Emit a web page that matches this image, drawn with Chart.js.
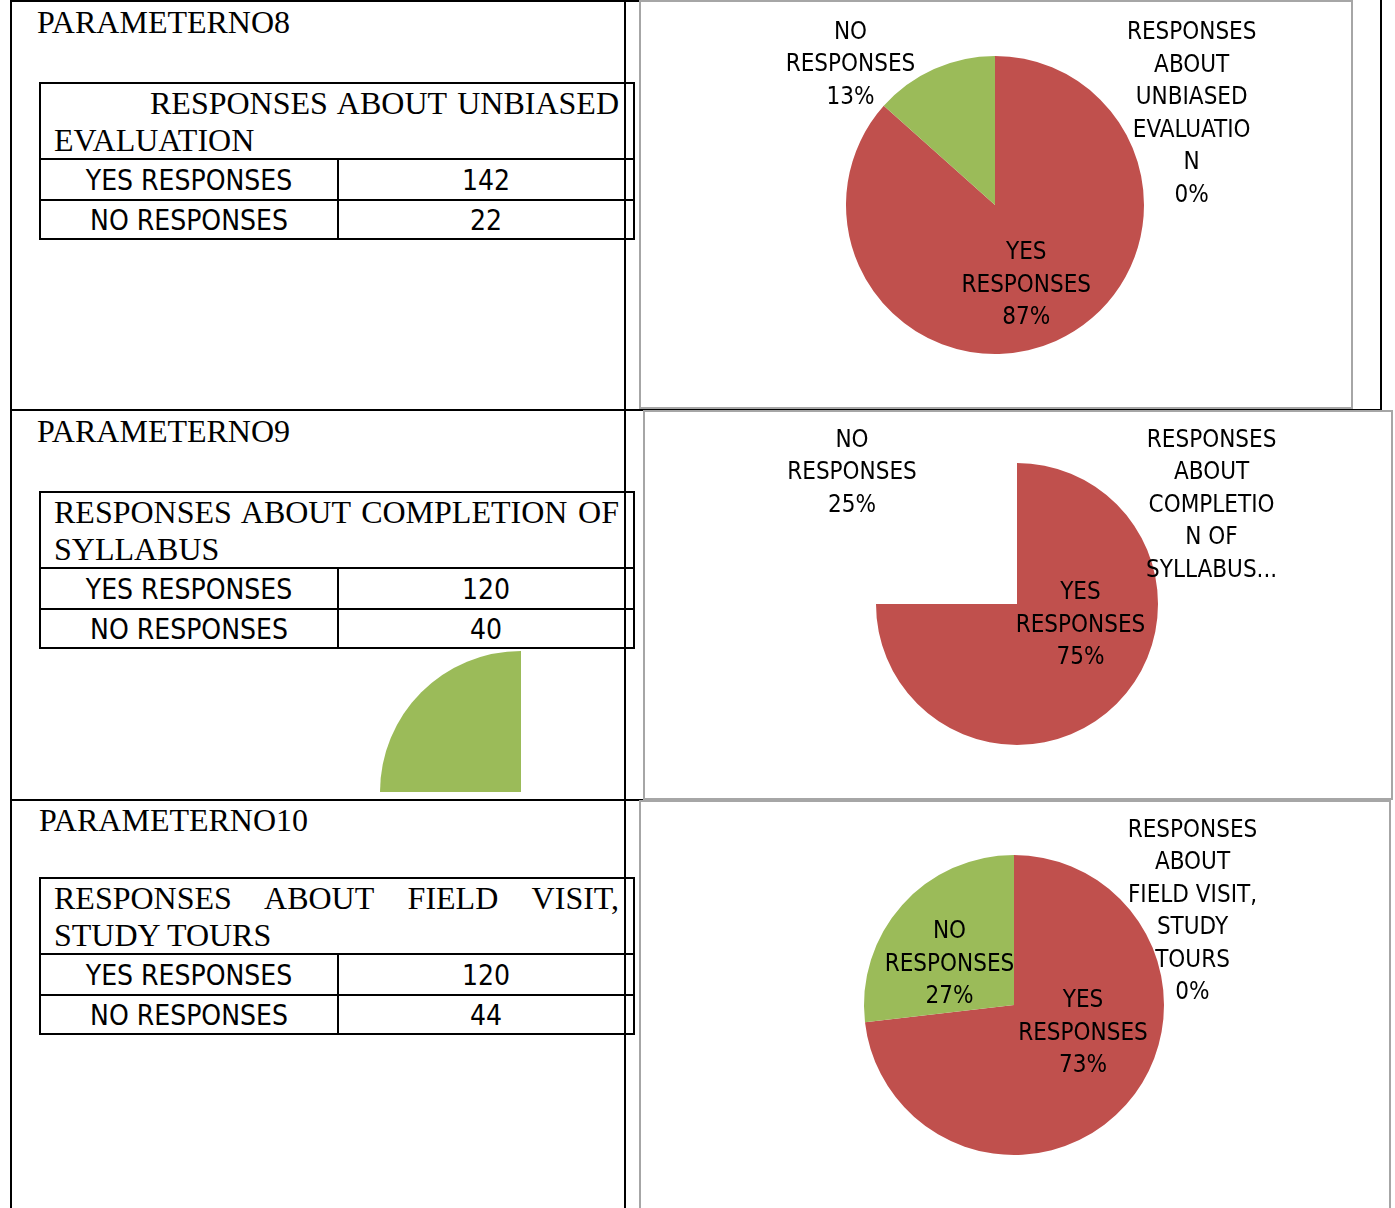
<!DOCTYPE html>
<html>
<head>
<meta charset="utf-8">
<script src="https://cdn.jsdelivr.net/npm/chart.js@4.4.1/dist/chart.umd.min.js"></script>
<style>
body{margin:0;background:#fff;width:1395px;height:1208px;overflow:hidden;position:relative;}
.ln{position:absolute;background:#000;}
.frame{position:absolute;border:2px solid #a6a6a6;box-sizing:border-box;background:#fff;}
.title{position:absolute;font-family:"Liberation Serif","Times New Roman",serif;font-size:32px;line-height:32px;white-space:nowrap;}
.tbl{position:absolute;left:39px;width:596px;height:158px;border:2px solid #000;box-sizing:border-box;}
.tbl .hd{position:absolute;left:0;right:0;top:1px;height:73px;padding:0 14px 0 13px;
  font-family:"Liberation Serif","Times New Roman",serif;font-size:32px;line-height:37px;text-align:justify;}
.tbl .h{position:absolute;left:0;right:0;height:2px;background:#000;}
.tbl .v{position:absolute;left:296px;width:2px;top:74px;bottom:0;background:#000;}
.tbl .c{position:absolute;text-align:center;font-family:"Liberation Sans Narrow","DejaVu Sans Condensed",sans-serif;font-size:28px;}
canvas{position:absolute;}
</style>
</head>
<body>
<div class="ln" style="left:10px;top:0;width:2px;height:1208px"></div>
<div class="ln" style="left:624px;top:0;width:2px;height:1208px"></div>
<div class="ln" style="left:10px;top:0;width:630px;height:2px"></div>
<div class="ln" style="left:1380px;top:0;width:2px;height:411px"></div>
<div class="ln" style="left:10px;top:409px;width:1372px;height:2px"></div>
<div class="ln" style="left:10px;top:799px;width:634px;height:2px"></div>

<div class="frame" style="left:639px;top:0;width:714px;height:409px"></div>
<div class="frame" style="left:643px;top:410px;width:750px;height:390px"></div>
<div class="frame" style="left:639px;top:800px;width:752px;height:420px"></div>

<div class="title" style="left:37px;top:6px">PARAMETERNO8</div>
<div class="title" style="left:37px;top:415px">PARAMETERNO9</div>
<div class="title" style="left:39px;top:804px">PARAMETERNO10</div>

<div id="tables"></div>

<canvas id="pie8" width="708" height="403" style="left:641px;top:3px"></canvas>
<canvas id="pie9" width="744" height="384" style="left:645px;top:413px"></canvas>
<canvas id="pie9b" width="282" height="282" style="left:380px;top:651px"></canvas>
<canvas id="pie10" width="746" height="405" style="left:641px;top:803px"></canvas>

<script>
var categories8 = ['YES RESPONSES', 'NO RESPONSES', 'RESPONSES ABOUT UNBIASED EVALUATION'];
var values8 = [142, 22, 0];
var categories9 = ['YES RESPONSES', 'NO RESPONSES', 'RESPONSES ABOUT COMPLETION OF SYLLABUS'];
var values9 = [120, 40, 0];
var categories10 = ['YES RESPONSES', 'NO RESPONSES', 'RESPONSES ABOUT FIELD VISIT, STUDY TOURS'];
var values10 = [120, 44, 0];

var RED = '#C0504D', GREEN = '#9BBB59', NONE = 'rgba(0,0,0,0)';
var LABEL_FONT = '24px "Liberation Sans Narrow", "DejaVu Sans Condensed", sans-serif';
var LINE_H = 32.5;

function buildTable(top, indent, cats, vals) {
	var t = document.createElement('div');
	t.className = 'tbl';
	t.style.top = top + 'px';
	var html = '<div class="hd" style="text-indent:' + indent + 'px">' + cats[2] + '</div>';
	html += '<div class="h" style="top:74px"></div><div class="h" style="top:115px"></div><div class="v"></div>';
	for (var i = 0; i < 2; i++) {
		var y = i == 0 ? 77 : 118, h = i == 0 ? 39 : 37;
		html += '<div class="c" style="left:0;width:296px;top:' + y + 'px;height:' + h + 'px;line-height:' + h + 'px">' + cats[i] + '</div>';
		html += '<div class="c" style="left:298px;width:294px;top:' + y + 'px;height:' + h + 'px;line-height:' + h + 'px">' + vals[i] + '</div>';
	}
	t.innerHTML = html;
	document.getElementById('tables').appendChild(t);
}
buildTable(82, 96, categories8, values8);
buildTable(491, 0, categories9, values9);
buildTable(877, 0, categories10, values10);

// word wrap like the excel data labels (long words get broken)
function wrapText(ctx, text, maxW) {
	var out = [], line = '';
	text.split(' ').forEach(function(word) {
		var test = line ? line + ' ' + word : word;
		if (ctx.measureText(test).width <= maxW) { line = test; return; }
		if (line) out.push(line);
		var w = word;
		while (ctx.measureText(w).width > maxW) {
			var n = w.length;
			while (n > 1 && ctx.measureText(w.slice(0, n)).width > maxW) n--;
			out.push(w.slice(0, n));
			w = w.slice(n);
		}
		line = w;
	});
	if (line) out.push(line);
	return out;
}

var pieLabels = {
	id: 'pieLabels',
	afterDatasetsDraw: function(chart, args, opts) {
		if (!opts.places) return;
		var ctx = chart.ctx, ds = chart.data.datasets[0];
		var total = ds.data.reduce(function(a, b) { return a + b; }, 0);
		ctx.save();
		ctx.font = LABEL_FONT;
		ctx.fillStyle = '#000';
		ctx.textAlign = 'center';
		ctx.textBaseline = 'middle';
		var maxW = ctx.measureText('RESPONSES').width + 1;
		chart.getDatasetMeta(0).data.forEach(function(arc, i) {
			var p = opts.places[i];
			var lines = wrapText(ctx, chart.data.labels[i], maxW);
			var pct = Math.round(ds.data[i] / total * 100) + '%';
			if (opts.maxLines && lines.length >= opts.maxLines) {
				lines = lines.slice(0, opts.maxLines);
				lines[lines.length - 1] += '...';
			} else {
				lines.push(pct);
			}
			var x = arc.x + p[0] * arc.outerRadius, y = arc.y + p[1] * arc.outerRadius + 3;
			var y0 = y - (lines.length - 1) * LINE_H / 2;
			lines.forEach(function(t, k) { ctx.fillText(t, x, y0 + k * LINE_H); });
		});
		ctx.restore();
	}
};

function makePie(id, cats, vals, colors, cx, cy, r, labelOpts) {
	var cv = document.getElementById(id);
	return new Chart(cv.getContext('2d'), {
		type: 'pie',
		data: {
			labels: cats,
			datasets: [{ data: vals, backgroundColor: colors, borderWidth: 0 }]
		},
		options: {
			responsive: false,
			animation: false,
			layout: { padding: { left: cx - r, top: cy - r, right: cv.width - cx - r, bottom: cv.height - cy - r } },
			plugins: { legend: { display: false }, tooltip: { enabled: false }, pieLabels: labelOpts || {} }
		},
		plugins: [pieLabels]
	});
}

function setup() {
	makePie('pie8', categories8, values8, [RED, GREEN, NONE], 354, 202, 149,
		{ places: [[0.21, 0.52], [-0.97, -0.96], [1.32, -0.63]] });
	// slice of "no" answers sits away from its pie in the source, drawn on its own canvas
	makePie('pie9', categories9, values9, [RED, NONE, NONE], 372, 191, 141,
		{ places: [[0.45, 0.13], [-1.17, -0.95], [1.38, -0.72]], maxLines: 5 });
	makePie('pie9b', categories9, values9, [NONE, GREEN, NONE], 141, 141, 141);
	makePie('pie10', categories10, values10, [RED, GREEN, NONE], 373, 202, 150,
		{ places: [[0.46, 0.17], [-0.43, -0.29], [1.19, -0.64]] });
}
window.onload = setup;
</script>
</body>
</html>
